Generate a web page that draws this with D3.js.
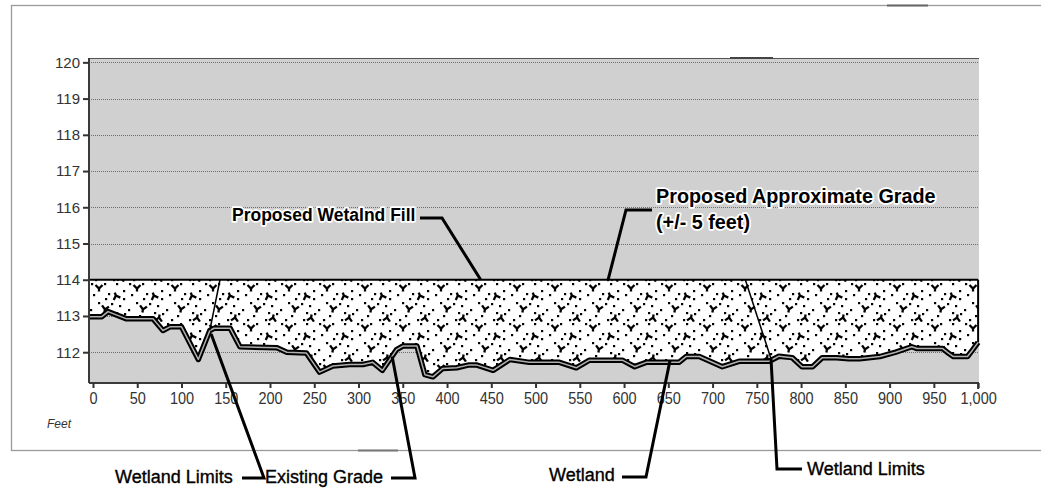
<!DOCTYPE html>
<html>
<head>
<meta charset="utf-8">
<script src="https://cdn.jsdelivr.net/npm/d3@7/dist/d3.min.js"></script>
<style>
  body { margin: 0; background: #fff; }
  text { font-family: "Liberation Sans", Arial, sans-serif; }
</style>
</head>
<body>
<div id="chart"></div>
<script>
// distance along profile (feet) and existing grade elevation
var feet = [0, 10, 17, 38, 68, 79, 87, 100, 119, 132, 137, 155, 166, 208, 219, 241, 256, 271, 290, 305,
            316, 327, 343, 350, 366, 375, 384, 395, 411, 425, 433, 452, 471, 493, 527, 546, 561, 598, 612, 625,
            662, 670, 685, 711, 730, 764, 775, 790, 801, 813, 824, 840, 854, 866, 889, 907, 925, 931, 960, 965,
            972, 988, 994, 1000];
var grade = [112.98, 112.98, 113.12, 112.92, 112.92, 112.6, 112.7, 112.7, 111.8, 112.6, 112.66, 112.66, 112.15, 112.12, 112.0, 111.98, 111.45, 111.62, 111.66, 111.66,
             111.72, 111.5, 112.07, 112.17, 112.17, 111.38, 111.32, 111.55, 111.57, 111.65, 111.65, 111.5, 111.8, 111.72, 111.72, 111.57, 111.78, 111.78, 111.6, 111.72,
             111.72, 111.88, 111.88, 111.6, 111.75, 111.75, 111.89, 111.85, 111.6, 111.6, 111.85, 111.85, 111.82, 111.82, 111.88, 112.0, 112.15, 112.1, 112.1, 112.0,
             111.88, 111.88, 112.07, 112.27];
var proposedGrade = 114;
var xTicks = [0, 50, 100, 150, 200, 250, 300, 350, 400, 450, 500, 550, 600, 650, 700, 750, 800, 850, 900, 950, 1000];
var yTicks = [112, 113, 114, 115, 116, 117, 118, 119, 120];

var w = 1041, h = 489;
var svg = d3.select("#chart").append("svg")
    .attr("width", w)
    .attr("height", h);

var x = d3.scaleLinear().domain([-4.5, 1001]).range([89, 979]);
var y = d3.scaleLinear().domain([111.15, 120.12]).range([383, 58]);

var profile = feet.map(function(f, i) { return [f, grade[i]]; });

// outer frame (right side runs off the picture)
svg.append("rect")
    .attr("x", 11.5).attr("y", 5.5)
    .attr("width", 1045).attr("height", 445)
    .attr("fill", "none")
    .attr("stroke", "#9a9a9a")
    .attr("stroke-width", 1.3);
svg.append("line").attr("x1", 887).attr("x2", 928).attr("y1", 5.5).attr("y2", 5.5)
    .attr("stroke", "#666").attr("stroke-width", 2);
svg.append("line").attr("x1", 358).attr("x2", 398).attr("y1", 450.5).attr("y2", 450.5)
    .attr("stroke", "#777").attr("stroke-width", 2);

// plot background
svg.append("rect")
    .attr("x", x.range()[0]).attr("y", y.range()[1])
    .attr("width", x.range()[1] - x.range()[0])
    .attr("height", y.range()[0] - y.range()[1])
    .attr("fill", "#d0d0d0");
svg.append("line")
    .attr("x1", x.range()[0]).attr("x2", x.range()[1])
    .attr("y1", 58.5).attr("y2", 58.5)
    .attr("stroke", "#555").attr("stroke-width", 1);
svg.append("line").attr("x1", 730).attr("x2", 773).attr("y1", 58).attr("y2", 58)
    .attr("stroke", "#444").attr("stroke-width", 2);

// gridlines
svg.append("g").selectAll("line")
    .data(yTicks)
    .enter()
    .append("line")
    .attr("x1", x.range()[0])
    .attr("x2", x.range()[1])
    .attr("y1", function(d) { return Math.round(y(d)) + 0.5; })
    .attr("y2", function(d) { return Math.round(y(d)) + 0.5; })
    .attr("stroke", "#6e6e6e")
    .attr("stroke-width", 1)
    .attr("stroke-dasharray", "1,1");

// fill pattern (dots and little tri-marks)
var defs = svg.append("defs");
var pat = defs.append("pattern")
    .attr("id", "fillpat")
    .attr("patternUnits", "userSpaceOnUse")
    .attr("x", 89).attr("y", 282)
    .attr("width", 38).attr("height", 40);
pat.append("rect").attr("width", 38).attr("height", 40).attr("fill", "#fff");
var dots = [[2, 1], [15, 1], [27, 1], [34, 8], [4, 12], [19, 11], [30, 23], [1, 27], [12, 33], [24, 37], [35, 31],
            [9, 20], [22, 21], [34, 16], [16, 16], [6, 37], [27, 30]];
dots.forEach(function(d) {
  pat.append("rect").attr("x", d[0]).attr("y", d[1]).attr("width", 2.2).attr("height", 2.2).attr("fill", "#000");
});
var marks = [[10, 6, 0], [27, 14, 160], [16, 27, 10], [32, 36, 190]];
marks.forEach(function(d) {
  pat.append("path")
    .attr("d", "M-3.5,-3L0,0.5L3.5,-3M0,0L0,3.5")
    .attr("transform", "translate(" + d[0] + "," + d[1] + ") rotate(" + d[2] + ")")
    .attr("fill", "none")
    .attr("stroke", "#000")
    .attr("stroke-width", 2.3);
});

// proposed wetland fill: between existing grade and proposed grade
var fillArea = d3.area()
    .x(function(d) { return x(d[0]); })
    .y0(function(d) { return y(d[1]); })
    .y1(y(proposedGrade));
var fillPts = [[x.domain()[0], grade[0]]].concat(profile);
svg.append("path")
    .datum(fillPts)
    .attr("d", fillArea)
    .attr("fill", "url(#fillpat)");

// proposed grade top and right edge
svg.append("line")
    .attr("x1", x.range()[0]).attr("x2", x(1000))
    .attr("y1", y(proposedGrade)).attr("y2", y(proposedGrade))
    .attr("stroke", "#000").attr("stroke-width", 2);
svg.append("line")
    .attr("x1", x(1000)).attr("x2", x(1000))
    .attr("y1", y(proposedGrade)).attr("y2", y(grade[grade.length - 1]))
    .attr("stroke", "#000").attr("stroke-width", 2);

// existing grade, double line
var line = d3.line()
    .x(function(d) { return x(d[0]); })
    .y(function(d) { return y(d[1]); });
svg.append("path")
    .datum(fillPts)
    .attr("d", line)
    .attr("fill", "none")
    .attr("stroke", "#000")
    .attr("stroke-width", 5.5)
    .attr("stroke-linejoin", "round");
svg.append("path")
    .datum(fillPts)
    .attr("d", line)
    .attr("fill", "none")
    .attr("stroke", "#b0b0b0")
    .attr("stroke-width", 1.5)
    .attr("stroke-linejoin", "round");

// axes
var yAxis = svg.append("g")
    .attr("transform", "translate(" + x.range()[0] + ",0)")
    .call(d3.axisLeft(y).tickValues(yTicks).tickSize(6).tickPadding(3).tickFormat(d3.format("d")));
var xAxis = svg.append("g")
    .attr("transform", "translate(0," + y.range()[0] + ")")
    .call(d3.axisBottom(x).tickValues(xTicks).tickSize(5).tickPadding(4).tickFormat(d3.format(",")));
[yAxis, xAxis].forEach(function(g) {
  g.select(".domain").attr("stroke", "#3a3a3a").attr("stroke-width", 2);
  g.selectAll(".tick line").attr("stroke", "#333").attr("stroke-width", 2);
  g.selectAll("text").attr("fill", "#333").attr("font-size", "15px")
    .attr("font-family", "Liberation Sans, Arial, sans-serif");
});
xAxis.select(".domain").attr("d", "M" + x.range()[0] + ",0H" + x.range()[1] + "M" + x(1000) + ",0V6");
yAxis.select(".domain").attr("d", "M0," + y.range()[0] + "V" + y.range()[1]);
// x labels are slightly stretched vertically in the original
xAxis.selectAll(".tick text")
    .attr("font-size", "14.5px")
    .attr("y", 0).attr("dy", 0)
    .attr("transform", "translate(0,21) scale(1,1.2)");

svg.append("text")
    .attr("x", 47).attr("y", 428)
    .attr("font-size", "12px")
    .attr("font-style", "italic")
    .attr("fill", "#333")
    .text("Feet");

// annotations: anchor in data units, elbow + label in page pixels
function leader(pts, width) {
  svg.append("path")
    .attr("d", d3.line()(pts))
    .attr("fill", "none")
    .attr("stroke", "#000")
    .attr("stroke-width", width)
    .attr("stroke-linejoin", "miter");
}
function label(tx, ty, str, size, weight, halo) {
  var t = svg.append("text")
    .attr("x", tx).attr("y", ty)
    .attr("font-size", size + "px")
    .attr("font-weight", weight)
    .attr("fill", "#000")
    .text(str);
  if (halo) {
    t.attr("stroke", "#fff").attr("stroke-width", 3.5)
     .attr("stroke-linejoin", "round").attr("paint-order", "stroke");
  } else {
    t.attr("stroke", "#000").attr("stroke-width", 0.35);
  }
  return t;
}

// Proposed Wetalnd Fill
leader([[420, 218], [442, 218], [x(438), y(proposedGrade)]], 3);
label(232, 221, "Proposed Wetalnd Fill", 17.5, "bold", true);

// Proposed Approximate Grade
leader([[652, 210], [626, 210], [x(582), y(proposedGrade)]], 3);
label(656, 203, "Proposed Approximate Grade", 19.8, "bold", true);
label(656, 229, "(+/- 5 feet)", 19.8, "bold", true);

// wetland limits (left)
leader([[x(143.5), y(proposedGrade)], [x(132), y(112.6)]], 1.5);
leader([[x(133.5), y(112.5)], [264, 478], [242, 478]], 3);
label(115, 483, "Wetland Limits", 18, "normal", false);

// existing grade
leader([[x(338), y(111.88)], [415, 478], [391, 478]], 3);
label(265, 483, "Existing Grade", 18, "normal", false);

// wetland
leader([[x(652), y(111.78)], [646, 477], [622, 477]], 3);
label(549, 481, "Wetland", 18, "normal", false);

// wetland limits (right)
leader([[x(737), y(proposedGrade)], [x(766), y(111.82)]], 1.5);
leader([[x(766), y(111.82)], [777, 469], [802, 469]], 3);
label(807, 475, "Wetland Limits", 18, "normal", false);
</script>
</body>
</html>
